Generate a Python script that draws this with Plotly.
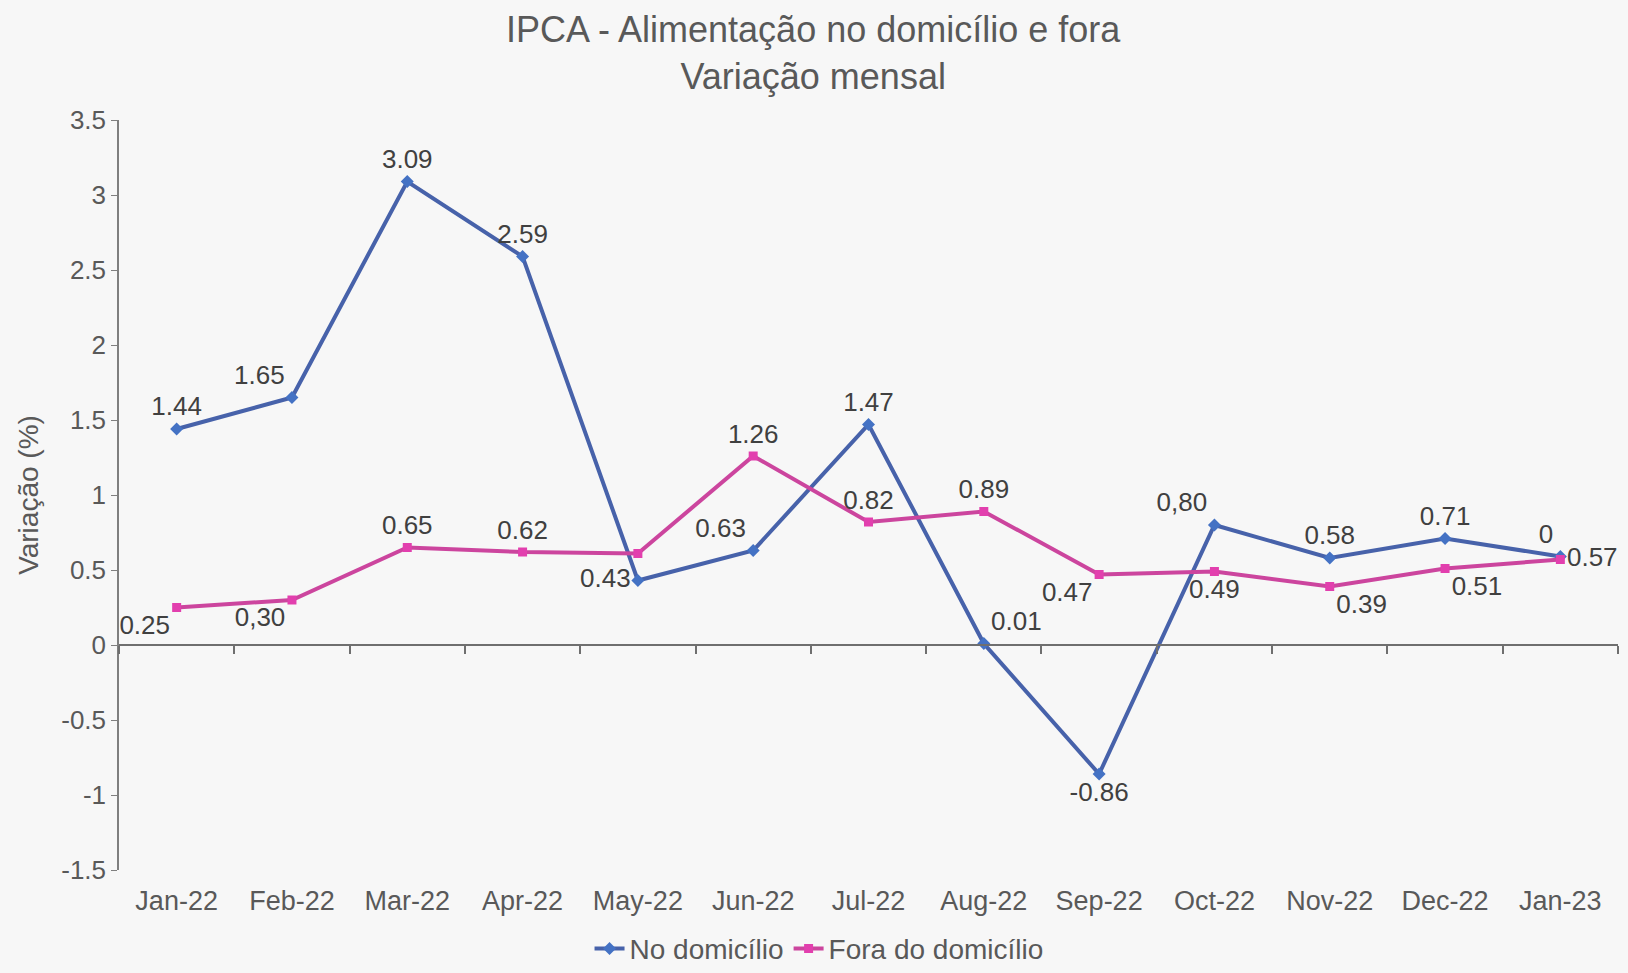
import plotly.graph_objects as go

months = ["Jan-22", "Feb-22", "Mar-22", "Apr-22", "May-22", "Jun-22", "Jul-22",
          "Aug-22", "Sep-22", "Oct-22", "Nov-22", "Dec-22", "Jan-23"]

no_domicilio = [1.44, 1.65, 3.09, 2.59, 0.43, 0.63, 1.47, 0.01, -0.86, 0.80, 0.58, 0.71, 0.59]
no_labels = ["1.44", "1.65", "3.09", "2.59", "0.43", "0.63", "1.47", "0.01", "-0.86", "0,80", "0.58", "0.71", "0"]

fora_domicilio = [0.25, 0.30, 0.65, 0.62, 0.61, 1.26, 0.82, 0.89, 0.47, 0.49, 0.39, 0.51, 0.57]
fora_labels = ["0.25", "0,30", "0.65", "0.62", "", "1.26", "0.82", "0.89", "0.47", "0.49", "0.39", "0.51", "0.57"]

y_ticks = [3.5, 3, 2.5, 2, 1.5, 1, 0.5, 0, -0.5, -1, -1.5]
y_ticktext = ["3.5", "3", "2.5", "2", "1.5", "1", "0.5", "0", "-0.5", "-1", "-1.5"]

no_pos = ["top center", "top left", "top center", "top center", "middle left", "top left",
          "top center", "top right", "bottom center", "top left", "top center", "top center", "top left"]
fora_pos = ["bottom left", "bottom left", "top center", "top center", "top center", "top center",
            "top center", "top center", "bottom left", "bottom center", "bottom right", "bottom right",
            "middle right"]

FONT = "Liberation Sans, Arial, sans-serif"
TXT = "#404040"
BLUE_LINE = "#4762AA"
BLUE_MK = "#4472C4"
PINK_LINE = "#CC459E"
PINK_MK = "#E23FAE"

fig = go.Figure()

# dummy trace to hold the zero-crossing axis
fig.add_trace(go.Scatter(x=months, y=[None] * len(months), xaxis="x2", yaxis="y",
                         showlegend=False, hoverinfo="skip", mode="lines"))

fig.add_trace(go.Scatter(
    x=months, y=no_domicilio, name="No domicílio", mode="lines+markers+text",
    line=dict(color=BLUE_LINE, width=4),
    marker=dict(symbol="diamond", size=10, color=BLUE_MK),
    text=no_labels, textposition=no_pos,
    textfont=dict(family=FONT, size=26, color=TXT),
))
fig.add_trace(go.Scatter(
    x=months, y=fora_domicilio, name="Fora do domicílio", mode="lines+markers+text",
    line=dict(color=PINK_LINE, width=4),
    marker=dict(symbol="square", size=9, color=PINK_MK),
    text=fora_labels, textposition=fora_pos,
    textfont=dict(family=FONT, size=26, color=TXT),
))

fig.update_layout(
    width=1628, height=973,
    paper_bgcolor="#F7F7F7", plot_bgcolor="#F7F7F7",
    margin=dict(l=119, r=10, t=120, b=103, autoexpand=False),
    font=dict(family=FONT, color=TXT),
    title=dict(text="IPCA - Alimentação no domicílio e fora<br>Variação mensal",
               x=0.4995, xanchor="center", y=0.957, yanchor="middle",
               font=dict(family=FONT, size=36, color="#595959")),
    xaxis=dict(type="category", categoryorder="array", categoryarray=months,
               range=[-0.5, 12.5], showline=False, showgrid=False, zeroline=False,
               ticks="", ticklabelstandoff=12,
               tickfont=dict(family=FONT, size=27, color="#595959")),
    xaxis2=dict(type="category", categoryorder="array", categoryarray=months,
                overlaying="x", anchor="free", position=0.3, side="bottom",
                range=[-0.5, 12.5], showline=True, linecolor="#6F6F6F", linewidth=2,
                ticks="outside", ticklen=8, tickcolor="#6F6F6F", tickwidth=1.5,
                tickson="boundaries", showticklabels=False, showgrid=False, zeroline=False),
    yaxis=dict(range=[-1.5, 3.5], tickvals=y_ticks, ticktext=y_ticktext,
               showline=True, linecolor="#7F7F7F", linewidth=1.5,
               ticks="outside", ticklen=6, tickcolor="#7F7F7F",
               showgrid=False, zeroline=False,
               tickfont=dict(family=FONT, size=26, color="#595959"),
               title=dict(text="Variação (%)", standoff=14,
                          font=dict(family=FONT, size=28, color="#595959"))),
    legend=dict(orientation="h", x=0.467, xanchor="center", y=-0.105, yanchor="middle",
                bgcolor="rgba(0,0,0,0)", font=dict(family=FONT, size=28, color="#595959"),
                itemwidth=30, tracegroupgap=0),
    showlegend=True,
)

fig.write_html("out.html", config={"displayModeBar": False},
               post_script="document.body.style.margin='0';document.body.style.overflow='hidden';")
